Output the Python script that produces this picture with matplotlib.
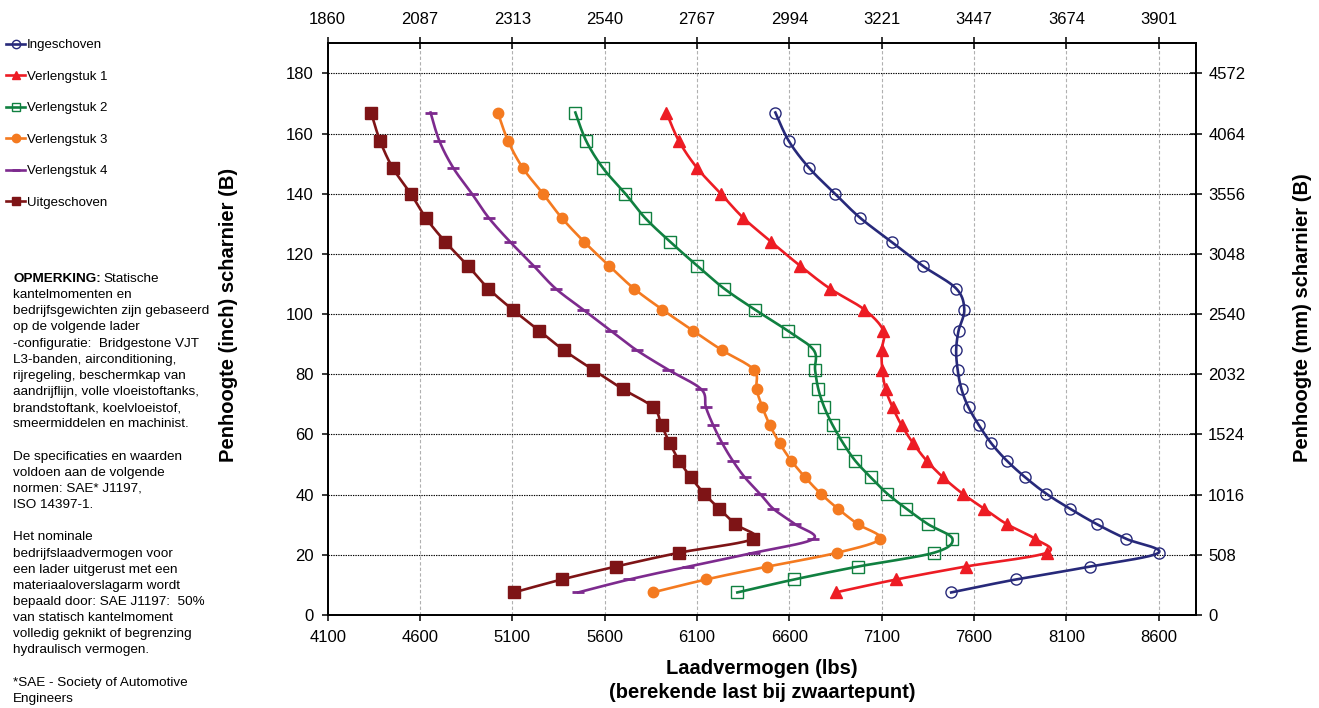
import numpy as np
import matplotlib
matplotlib.use("Agg")
import matplotlib.pyplot as plt
from matplotlib.lines import Line2D

plt.rcParams['font.family'] = ['Liberation Sans', 'DejaVu Sans']

# ---------------- data ----------------
heights_in = [167, 157.5, 148.5, 140, 132, 124, 116, 108.5, 101.5, 94.5, 88, 81.5, 75,
              69, 63, 57, 51.3, 45.7, 40.3, 35.3, 30.2, 25.3, 20.7, 16.1, 11.8, 7.5]

ingeschoven = [6524, 6597, 6708, 6847, 6983, 7153, 7323, 7503, 7547, 7516, 7503, 7511, 7532,
               7570, 7627, 7694, 7777, 7878, 7991, 8120, 8264, 8424, 8599, 8229, 7825, 7476]
verlengstuk1 = [5934, 6002, 6101, 6229, 6350, 6502, 6659, 6819, 7006, 7109, 7099, 7103, 7121,
                7159, 7208, 7271, 7343, 7433, 7538, 7655, 7777, 7931, 7994, 7554, 7178, 6850]
verlengstuk2 = [5441, 5500, 5591, 5712, 5818, 5955, 6102, 6246, 6413, 6590, 6732, 6739, 6757,
                6789, 6835, 6892, 6956, 7041, 7130, 7234, 7350, 7483, 7383, 6971, 6625, 6318]
verlengstuk3 = [5021, 5077, 5157, 5266, 5367, 5489, 5625, 5758, 5912, 6078, 6235, 6408, 6422,
                6454, 6495, 6548, 6610, 6686, 6770, 6863, 6970, 7090, 6859, 6481, 6148, 5860]
verlengstuk4 = [4657, 4705, 4781, 4881, 4972, 5088, 5216, 5334, 5483, 5632, 5773, 5944, 6123,
                6148, 6188, 6237, 6293, 6359, 6441, 6513, 6630, 6730, 6408, 6052, 5732, 5456]
uitgeschoven = [4335, 4384, 4453, 4550, 4631, 4737, 4860, 4970, 5101, 5245, 5379, 5537, 5700,
                5863, 5908, 5953, 6003, 6067, 6139, 6220, 6307, 6404, 6003, 5660, 5367, 5108]

series_names = ["Ingeschoven", "Verlengstuk 1", "Verlengstuk 2", "Verlengstuk 3",
                "Verlengstuk 4", "Uitgeschoven"]
series_values = [ingeschoven, verlengstuk1, verlengstuk2, verlengstuk3, verlengstuk4, uitgeschoven]

x_ticks_lbs = [4100, 4600, 5100, 5600, 6100, 6600, 7100, 7600, 8100, 8600]
x_ticks_kg = ["1860", "2087", "2313", "2540", "2767", "2994", "3221", "3447", "3674", "3901"]
y_ticks_in = [0, 20, 40, 60, 80, 100, 120, 140, 160, 180]
y_ticks_mm = ["0", "508", "1016", "1524", "2032", "2540", "3048", "3556", "4064", "4572"]

# ---------------- styles ----------------
colors = ["#27297A", "#ED1C24", "#108040", "#F47A20", "#7D2A8E", "#7E1416"]
markers = ["o", "^", "s", "o", "_", "s"]
mfaces = ["none", "#ED1C24", "none", "#F47A20", "#7D2A8E", "#7E1416"]
msizes = [8, 8, 8, 7.5, 8, 8.5]

W, H = 1319, 708
fig = plt.figure(figsize=(W / 100, H / 100), dpi=100)
L, R, T, B = 327.7, 1195.7, 43.3, 615.0
ax = fig.add_axes([L / W, 1 - B / H, (R - L) / W, (B - T) / H])

XMIN, XMAX, YMIN, YMAX = 4100, 8800, 0, 190
ax.set_xlim(XMIN, XMAX)
ax.set_ylim(YMIN, YMAX)


def smooth(xs, ys, n=20):
    """Catmull-Rom drawing of a line through the points (like a smoothed line)."""
    sx = (R - L) / (XMAX - XMIN)
    sy = (B - T) / (YMAX - YMIN)
    P = np.column_stack([np.asarray(xs, float) * sx, np.asarray(ys, float) * sy])
    P = np.vstack([P[0], P, P[-1]])
    out = []
    t = np.linspace(0, 1, n, endpoint=False)[:, None]
    for i in range(1, len(P) - 2):
        p0, p1, p2, p3 = P[i - 1], P[i], P[i + 1], P[i + 2]
        c = 0.5 * ((2 * p1) + (-p0 + p2) * t + (2 * p0 - 5 * p1 + 4 * p2 - p3) * t ** 2
                   + (-p0 + 3 * p1 - 3 * p2 + p3) * t ** 3)
        out.append(c)
    out.append(P[-2][None, :])
    C = np.vstack(out)
    return C[:, 0] / sx, C[:, 1] / sy


# grid
for xv in x_ticks_lbs[1:]:
    ax.axvline(xv, color="#B0B0B0", lw=0.8, dashes=(3, 2), zorder=0)
for yv in y_ticks_in[1:]:
    ax.axhline(yv, color="black", lw=0.8, dashes=(1.2, 1.0), zorder=0)

handles = []
for name, vals, c, m, fc, ms in zip(series_names, series_values, colors, markers, mfaces, msizes):
    sxv, syv = smooth(vals, heights_in)
    ax.plot(sxv, syv, color=c, lw=1.9, zorder=3)
    mew = 2.0 if m == "_" else 1.0
    ax.plot(vals, heights_in, ls="none", marker=m, ms=ms, mfc=fc, mec=c, mew=mew, zorder=4)
    handles.append(Line2D([], [], color=c, lw=1.9, marker=m, ms=6, mfc=fc, mec=c, mew=mew))

ax.set_xticks(x_ticks_lbs)
ax.set_xticklabels([str(v) for v in x_ticks_lbs])
ax.set_yticks(y_ticks_in)
ax.set_yticklabels([str(v) for v in y_ticks_in])
ax.tick_params(axis="both", direction="out", length=4, width=1.1, labelsize=12, pad=6)
ax.tick_params(axis="x", pad=7)
for s in ax.spines.values():
    s.set_linewidth(1.1)

axt = ax.twiny()
axt.set_xlim(XMIN, XMAX)
axt.set_xticks(x_ticks_lbs)
axt.set_xticklabels(x_ticks_kg)
axt.tick_params(axis="x", direction="inout", length=8, width=1.1, labelsize=12, pad=8)

axr = ax.twinx()
axr.set_ylim(YMIN, YMAX)
axr.set_yticks(y_ticks_in)
axr.set_yticklabels(y_ticks_mm)
axr.tick_params(axis="y", direction="inout", length=8, width=1.1, labelsize=12, pad=5)
for a in (axt, axr):
    for s in a.spines.values():
        s.set_linewidth(1.1)

# axis titles
fig.text(762 / W, 1 - 668 / H, "Laadvermogen (lbs)", ha="center", va="center",
         fontsize=14.5, fontweight="bold")
fig.text(762 / W, 1 - 693 / H, "(berekende last bij zwaartepunt)", ha="center", va="center",
         fontsize=14.5, fontweight="bold")
fig.text(228 / W, 1 - 315 / H, "Penhoogte (inch) scharnier (B)", ha="center", va="center",
         rotation=90, fontsize=14.5, fontweight="bold")
fig.text(1303 / W, 1 - 318 / H, "Penhoogte (mm) scharnier (B)", ha="center", va="center",
         rotation=90, fontsize=14.5, fontweight="bold")

# legend
fig.legend(handles, series_names, loc="upper left", bbox_to_anchor=(6 / W, 1 - 39 / H),
           frameon=False, fontsize=9.5, handlelength=1.45, handletextpad=0.12,
           labelspacing=1.46, borderaxespad=0, borderpad=0)

# note
note_lines = [
    "kantelmomenten en",
    "bedrijfsgewichten zijn gebaseerd",
    "op de volgende lader",
    "-configuratie:  Bridgestone VJT",
    "L3-banden, airconditioning,",
    "rijregeling, beschermkap van",
    "aandrijflijn, volle vloeistoftanks,",
    "brandstoftank, koelvloeistof,",
    "smeermiddelen en machinist.",
    "",
    "De specificaties en waarden",
    "voldoen aan de volgende",
    "normen: SAE* J1197,",
    "ISO 14397-1.",
    "",
    "Het nominale",
    "bedrijfslaadvermogen voor",
    "een lader uitgerust met een",
    "materiaaloverslagarm wordt",
    "bepaald door: SAE J1197:  50%",
    "van statisch kantelmoment",
    "volledig geknikt of begrenzing",
    "hydraulisch vermogen.",
    "",
    "*SAE - Society of Automotive",
    "Engineers",
]
line_h = 16.15
x0 = 13
y0 = 279
bold = fig.text(x0 / W, 1 - y0 / H, "OPMERKING:", fontsize=9.7, fontweight="bold",
                ha="left", va="center")
fig.canvas.draw()
bb = bold.get_window_extent()
fig.text(bb.x1 / W + 3 / W, 1 - y0 / H, "Statische", fontsize=9.7, ha="left", va="center")
for i, ln in enumerate(note_lines):
    if ln:
        fig.text(x0 / W, 1 - (y0 + (i + 1) * line_h) / H, ln, fontsize=9.7,
                 ha="left", va="center")

fig.savefig("out.png", dpi=100)
